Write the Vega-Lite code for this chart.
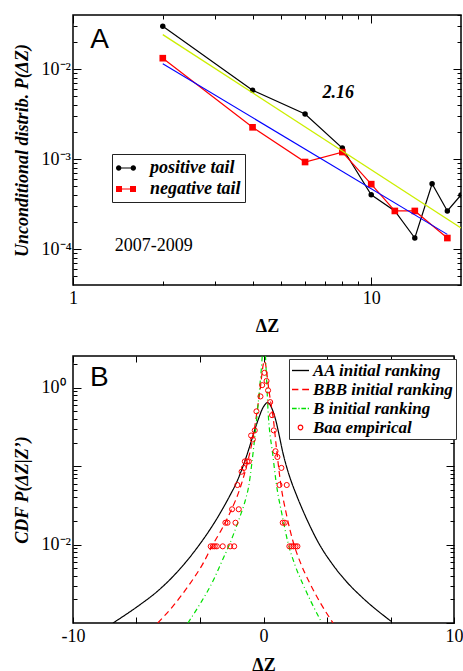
{
 "$schema": "https://vega.github.io/schema/vega-lite/v6.json",
 "padding": {"left": 12, "top": 13, "right": 0, "bottom": 0},
 "spacing": 17,
 "background": "white",
 "resolve": {"scale": {"color": "independent", "strokeDash": "independent", "shape": "independent", "size": "independent"}, "legend": {"color": "independent"}},
 "config": {
  "view": {"stroke": "black", "strokeWidth": 1.5},
  "axis": {"domain": false, "grid": false, "labelFont": "Liberation Serif", "labelFontSize": 18, "labelColor": "black", "tickColor": "black", "tickWidth": 1, "titleFont": "Liberation Serif", "titleFontSize": 18, "titleColor": "black", "labelOverlap": false, "labelFlush": false}
 },
 "datasets": {
  "tails": [
   {"dz": 2, "p": 0.03, "tail": "positive tail"},
   {"dz": 4, "p": 0.00585, "tail": "positive tail"},
   {"dz": 6, "p": 0.00318, "tail": "positive tail"},
   {"dz": 8, "p": 0.00133, "tail": "positive tail"},
   {"dz": 10, "p": 0.000403, "tail": "positive tail"},
   {"dz": 12, "p": 0.000266, "tail": "positive tail"},
   {"dz": 14, "p": 0.000133, "tail": "positive tail"},
   {"dz": 16, "p": 0.000533, "tail": "positive tail"},
   {"dz": 18, "p": 0.000266, "tail": "positive tail"},
   {"dz": 20, "p": 0.0004, "tail": "positive tail"},
   {"dz": 2, "p": 0.01325, "tail": "negative tail"},
   {"dz": 4, "p": 0.00226, "tail": "negative tail"},
   {"dz": 6, "p": 0.00093, "tail": "negative tail"},
   {"dz": 8, "p": 0.0012, "tail": "negative tail"},
   {"dz": 10, "p": 0.000528, "tail": "negative tail"},
   {"dz": 12, "p": 0.000266, "tail": "negative tail"},
   {"dz": 14, "p": 0.000266, "tail": "negative tail"},
   {"dz": 18, "p": 0.000133, "tail": "negative tail"}
  ],
  "fits": [
   {"dz": 2, "p": 0.0242, "fit": "pos"},
   {"dz": 20, "p": 0.000172, "fit": "pos"},
   {"dz": 2, "p": 0.01147, "fit": "neg"},
   {"dz": 18, "p": 0.000146, "fit": "neg"}
  ],
  "curves": [
   {"dz": -7.9, "p": 0.001, "curve": "AA initial ranking"},
   {"dz": -6.5, "p": 0.0017, "curve": "AA initial ranking"},
   {"dz": -5.6, "p": 0.0025, "curve": "AA initial ranking"},
   {"dz": -4.76, "p": 0.0039, "curve": "AA initial ranking"},
   {"dz": -4.0, "p": 0.0063, "curve": "AA initial ranking"},
   {"dz": -3.36, "p": 0.01, "curve": "AA initial ranking"},
   {"dz": -2.49, "p": 0.0206, "curve": "AA initial ranking"},
   {"dz": -1.75, "p": 0.0428, "curve": "AA initial ranking"},
   {"dz": -1.44, "p": 0.06, "curve": "AA initial ranking"},
   {"dz": -0.91, "p": 0.13, "curve": "AA initial ranking"},
   {"dz": -0.68, "p": 0.194, "curve": "AA initial ranking"},
   {"dz": -0.47, "p": 0.285, "curve": "AA initial ranking"},
   {"dz": -0.25, "p": 0.41, "curve": "AA initial ranking"},
   {"dz": -0.04, "p": 0.55, "curve": "AA initial ranking"},
   {"dz": 0.08, "p": 0.61, "curve": "AA initial ranking"},
   {"dz": 0.19, "p": 0.646, "curve": "AA initial ranking"},
   {"dz": 0.31, "p": 0.624, "curve": "AA initial ranking"},
   {"dz": 0.45, "p": 0.537, "curve": "AA initial ranking"},
   {"dz": 0.66, "p": 0.372, "curve": "AA initial ranking"},
   {"dz": 0.8, "p": 0.263, "curve": "AA initial ranking"},
   {"dz": 1.01, "p": 0.151, "curve": "AA initial ranking"},
   {"dz": 1.25, "p": 0.0912, "curve": "AA initial ranking"},
   {"dz": 1.45, "p": 0.0646, "curve": "AA initial ranking"},
   {"dz": 1.7, "p": 0.0447, "curve": "AA initial ranking"},
   {"dz": 2.24, "p": 0.0219, "curve": "AA initial ranking"},
   {"dz": 2.94, "p": 0.01, "curve": "AA initial ranking"},
   {"dz": 3.6, "p": 0.0057, "curve": "AA initial ranking"},
   {"dz": 4.34, "p": 0.0034, "curve": "AA initial ranking"},
   {"dz": 5.2, "p": 0.0021, "curve": "AA initial ranking"},
   {"dz": 6.7, "p": 0.00105, "curve": "AA initial ranking"},
   {"dz": -5.55, "p": 0.001, "curve": "BBB initial ranking"},
   {"dz": -4.7, "p": 0.0017, "curve": "BBB initial ranking"},
   {"dz": -3.89, "p": 0.0031, "curve": "BBB initial ranking"},
   {"dz": -3.2, "p": 0.0056, "curve": "BBB initial ranking"},
   {"dz": -2.66, "p": 0.01, "curve": "BBB initial ranking"},
   {"dz": -2.2, "p": 0.0156, "curve": "BBB initial ranking"},
   {"dz": -1.79, "p": 0.0245, "curve": "BBB initial ranking"},
   {"dz": -1.18, "p": 0.057, "curve": "BBB initial ranking"},
   {"dz": -0.85, "p": 0.109, "curve": "BBB initial ranking"},
   {"dz": -0.56, "p": 0.227, "curve": "BBB initial ranking"},
   {"dz": -0.21, "p": 0.82, "curve": "BBB initial ranking"},
   {"dz": 0.05, "p": 2.2, "curve": "BBB initial ranking"},
   {"dz": 0.3, "p": 0.87, "curve": "BBB initial ranking"},
   {"dz": 0.54, "p": 0.357, "curve": "BBB initial ranking"},
   {"dz": 0.68, "p": 0.17, "curve": "BBB initial ranking"},
   {"dz": 0.92, "p": 0.056, "curve": "BBB initial ranking"},
   {"dz": 1.2, "p": 0.0245, "curve": "BBB initial ranking"},
   {"dz": 1.54, "p": 0.0112, "curve": "BBB initial ranking"},
   {"dz": 2.0, "p": 0.0054, "curve": "BBB initial ranking"},
   {"dz": 2.41, "p": 0.0033, "curve": "BBB initial ranking"},
   {"dz": 3.0, "p": 0.00178, "curve": "BBB initial ranking"},
   {"dz": 3.65, "p": 0.001, "curve": "BBB initial ranking"},
   {"dz": -3.97, "p": 0.001, "curve": "B initial ranking"},
   {"dz": -3.3, "p": 0.0018, "curve": "B initial ranking"},
   {"dz": -2.66, "p": 0.0034, "curve": "B initial ranking"},
   {"dz": -2.2, "p": 0.006, "curve": "B initial ranking"},
   {"dz": -1.79, "p": 0.01, "curve": "B initial ranking"},
   {"dz": -1.26, "p": 0.0219, "curve": "B initial ranking"},
   {"dz": -0.95, "p": 0.037, "curve": "B initial ranking"},
   {"dz": -0.78, "p": 0.055, "curve": "B initial ranking"},
   {"dz": -0.62, "p": 0.105, "curve": "B initial ranking"},
   {"dz": -0.47, "p": 0.219, "curve": "B initial ranking"},
   {"dz": -0.13, "p": 1.55, "curve": "B initial ranking"},
   {"dz": 0.02, "p": 4.0, "curve": "B initial ranking"},
   {"dz": 0.28, "p": 0.357, "curve": "B initial ranking"},
   {"dz": 0.49, "p": 0.138, "curve": "B initial ranking"},
   {"dz": 0.66, "p": 0.063, "curve": "B initial ranking"},
   {"dz": 1.0, "p": 0.0224, "curve": "B initial ranking"},
   {"dz": 1.28, "p": 0.0107, "curve": "B initial ranking"},
   {"dz": 1.65, "p": 0.0055, "curve": "B initial ranking"},
   {"dz": 2.06, "p": 0.00316, "curve": "B initial ranking"},
   {"dz": 2.5, "p": 0.00186, "curve": "B initial ranking"},
   {"dz": 3.02, "p": 0.00105, "curve": "B initial ranking"}
  ],
  "baa": [
   {"dz": 0.05, "p": 1.55}, {"dz": -0.07, "p": 1.08}, {"dz": 0.16, "p": 1.22}, {"dz": 0.24, "p": 0.925},
   {"dz": -0.16, "p": 0.775}, {"dz": 0.35, "p": 0.656}, {"dz": -0.37, "p": 0.5}, {"dz": 0.45, "p": 0.447},
   {"dz": -0.46, "p": 0.286}, {"dz": 0.54, "p": 0.286}, {"dz": -0.65, "p": 0.246}, {"dz": -0.56, "p": 0.219},
   {"dz": 0.63, "p": 0.155}, {"dz": 0.73, "p": 0.131}, {"dz": -0.98, "p": 0.115}, {"dz": -0.86, "p": 0.115},
   {"dz": -0.77, "p": 0.115}, {"dz": -1.03, "p": 0.095}, {"dz": -1.15, "p": 0.085}, {"dz": 0.94, "p": 0.095},
   {"dz": -1.37, "p": 0.0575}, {"dz": 0.84, "p": 0.0575}, {"dz": 1.22, "p": 0.0575}, {"dz": -1.65, "p": 0.0282},
   {"dz": -1.3, "p": 0.0282}, {"dz": -2.0, "p": 0.019}, {"dz": -1.89, "p": 0.019}, {"dz": -1.47, "p": 0.019},
   {"dz": 1.01, "p": 0.019}, {"dz": 1.12, "p": 0.019}, {"dz": -2.77, "p": 0.0095}, {"dz": -2.66, "p": 0.0095},
   {"dz": -2.56, "p": 0.0095}, {"dz": -2.45, "p": 0.0095}, {"dz": -2.14, "p": 0.0095}, {"dz": -1.75, "p": 0.0095},
   {"dz": -1.54, "p": 0.0095}, {"dz": 1.36, "p": 0.0095}, {"dz": 1.47, "p": 0.0095}, {"dz": 1.57, "p": 0.0095},
   {"dz": 1.68, "p": 0.0095}, {"dz": 1.78, "p": 0.0095}
  ]
 },
 "vconcat": [
  {
   "width": 388,
   "height": 270,
   "resolve": {"axis": {"x": "independent", "y": "independent"}},
   "layer": [
    {
     "data": {"name": "tails"},
     "mark": {"type": "point", "filled": true, "opacity": 0, "size": 400, "clip": true},
     "encoding": {
      "x": {"field": "dz", "type": "quantitative", "scale": {"type": "log", "domain": [1, 20], "nice": false}, "axis": null},
      "y": {"field": "p", "type": "quantitative", "scale": {"type": "log", "domain": [0.00004, 0.04], "nice": false}, "axis": null},
      "color": {"field": "tail", "type": "nominal", "scale": {"domain": ["positive tail", "negative tail"], "range": ["black", "#ff0000"]},
       "legend": {"orient": "none", "legendX": 39, "legendY": 139, "title": null, "strokeColor": "#222", "fillColor": "white", "padding": 4, "labelFont": "Liberation Serif", "labelFontSize": 18, "labelFontWeight": "bold", "labelFontStyle": "italic", "labelColor": "black", "labelOffset": 14, "rowPadding": 2, "symbolSize": 400, "symbolStrokeWidth": 0, "symbolOpacity": 1, "labelLimit": 300}},
      "shape": {"field": "tail", "type": "nominal", "scale": {"domain": ["positive tail", "negative tail"], "range": ["M-1,-0.06H1V0.06H-1ZM-1,0a0.27,0.27 0 1,1 0.54,0a0.27,0.27 0 1,1 -0.54,0ZM0.46,0a0.27,0.27 0 1,1 0.54,0a0.27,0.27 0 1,1 -0.54,0Z", "M-1,-0.06H1V0.06H-1ZM-1,-0.3H-0.4V0.3H-1ZM0.4,-0.3H1V0.3H0.4Z"]}, "legend": null}
     }
    },
    {
     "data": {"name": "tails"},
     "mark": {"type": "line", "strokeWidth": 1.2, "clip": true},
     "encoding": {
      "x": {"field": "dz", "type": "quantitative", "scale": {"type": "log", "domain": [1, 20], "nice": false},
       "axis": {"orient": "bottom", "values": [1, 2, 3, 4, 5, 6, 7, 8, 9, 10], "labelExpr": "datum.value == 1 ? '1' : datum.value == 10 ? '10' : ''", "tickSize": {"condition": {"test": "datum.value == 1 || datum.value == 10", "value": -8}, "value": -4}, "labelPadding": 12, "title": "ΔZ", "titleFontWeight": "bold", "titlePadding": 6.5}},
      "y": {"field": "p", "type": "quantitative", "scale": {"type": "log", "domain": [0.00004, 0.04], "nice": false},
       "axis": {"orient": "left", "values": [0.00005, 0.00006, 0.00007, 0.00008, 0.00009, 0.0001, 0.0002, 0.0003, 0.0004, 0.0005, 0.0006, 0.0007, 0.0008, 0.0009, 0.001, 0.002, 0.003, 0.004, 0.005, 0.006, 0.007, 0.008, 0.009, 0.01, 0.02, 0.03], "labelExpr": "datum.value == 0.01 ? '10⁻²' : datum.value == 0.001 ? '10⁻³' : datum.value == 0.0001 ? '10⁻⁴' : ''", "tickSize": {"condition": {"test": "datum.value == 0.01 || datum.value == 0.001 || datum.value == 0.0001", "value": -8}, "value": -4}, "labelAlign": "left", "labelBaseline": "middle", "labelPadding": 40, "title": "Unconditional distrib. P(ΔZ)", "titleFontWeight": "bold", "titleFontStyle": "italic", "titlePadding": 5.5}},
      "color": {"field": "tail", "type": "nominal", "scale": {"domain": ["positive tail", "negative tail"], "range": ["black", "#ff0000"]}, "legend": null}
     }
    },
    {
     "data": {"name": "tails"},
     "transform": [{"filter": "datum.tail == 'positive tail'"}],
     "mark": {"type": "point", "shape": "circle", "filled": true, "color": "black", "size": 30, "opacity": 1, "clip": true},
     "encoding": {
      "x": {"field": "dz", "type": "quantitative", "scale": {"type": "log", "domain": [1, 20], "nice": false},
       "axis": {"orient": "top", "values": [1, 2, 3, 4, 5, 6, 7, 8, 9, 10], "labels": false, "tickSize": {"condition": {"test": "datum.value == 1 || datum.value == 10", "value": -8}, "value": -4}, "title": null}},
      "y": {"field": "p", "type": "quantitative", "scale": {"type": "log", "domain": [0.00004, 0.04], "nice": false},
       "axis": {"orient": "right", "values": [0.00004, 0.00005, 0.00006, 0.00007, 0.00008, 0.00009, 0.0001, 0.0002, 0.0003, 0.0004, 0.0005, 0.0006, 0.0007, 0.0008, 0.0009, 0.001, 0.002, 0.003, 0.004, 0.005, 0.006, 0.007, 0.008, 0.009, 0.01, 0.02, 0.03, 0.04], "labels": false, "tickSize": {"condition": {"test": "datum.value == 0.01 || datum.value == 0.001 || datum.value == 0.0001", "value": -8}, "value": -4}, "title": null}}
     }
    },
    {
     "data": {"name": "tails"},
     "transform": [{"filter": "datum.tail == 'negative tail'"}],
     "mark": {"type": "point", "shape": "square", "filled": true, "color": "#ff0000", "size": 44, "opacity": 1, "clip": true},
     "encoding": {
      "x": {"field": "dz", "type": "quantitative", "scale": {"type": "log", "domain": [1, 20], "nice": false}, "axis": null},
      "y": {"field": "p", "type": "quantitative", "scale": {"type": "log", "domain": [0.00004, 0.04], "nice": false}, "axis": null}
     }
    },
    {
     "data": {"name": "fits"},
     "transform": [{"filter": "datum.fit == 'pos'"}],
     "mark": {"type": "line", "color": "#ccee00", "strokeWidth": 1.3, "clip": true},
     "encoding": {
      "x": {"field": "dz", "type": "quantitative", "scale": {"type": "log", "domain": [1, 20], "nice": false}, "axis": null},
      "y": {"field": "p", "type": "quantitative", "scale": {"type": "log", "domain": [0.00004, 0.04], "nice": false}, "axis": null}
     }
    },
    {
     "data": {"name": "fits"},
     "transform": [{"filter": "datum.fit == 'neg'"}],
     "mark": {"type": "line", "color": "#0000ff", "strokeWidth": 1.1, "clip": true},
     "encoding": {
      "x": {"field": "dz", "type": "quantitative", "scale": {"type": "log", "domain": [1, 20], "nice": false}, "axis": null},
      "y": {"field": "p", "type": "quantitative", "scale": {"type": "log", "domain": [0.00004, 0.04], "nice": false}, "axis": null}
     }
    },
    {
     "data": {"values": [{"dz": 1.227, "p": 0.0213, "t": "A"}]},
     "mark": {"type": "text", "font": "Liberation Sans", "fontSize": 28, "align": "center", "baseline": "middle", "color": "black"},
     "encoding": {
      "x": {"field": "dz", "type": "quantitative", "scale": {"type": "log", "domain": [1, 20], "nice": false}, "axis": null},
      "y": {"field": "p", "type": "quantitative", "scale": {"type": "log", "domain": [0.00004, 0.04], "nice": false}, "axis": null},
      "text": {"field": "t"}
     }
    },
    {
     "data": {"values": [{"dz": 7.75, "p": 0.0054, "t": "2.16"}]},
     "mark": {"type": "text", "font": "Liberation Serif", "fontSize": 18, "fontWeight": "bold", "fontStyle": "italic", "align": "center", "baseline": "middle", "color": "black"},
     "encoding": {
      "x": {"field": "dz", "type": "quantitative", "scale": {"type": "log", "domain": [1, 20], "nice": false}, "axis": null},
      "y": {"field": "p", "type": "quantitative", "scale": {"type": "log", "domain": [0.00004, 0.04], "nice": false}, "axis": null},
      "text": {"field": "t"}
     }
    },
    {
     "data": {"values": [{"dz": 1.38, "p": 0.000109, "t": "2007-2009"}]},
     "mark": {"type": "text", "font": "Liberation Serif", "fontSize": 18, "align": "left", "baseline": "middle", "color": "black"},
     "encoding": {
      "x": {"field": "dz", "type": "quantitative", "scale": {"type": "log", "domain": [1, 20], "nice": false}, "axis": null},
      "y": {"field": "p", "type": "quantitative", "scale": {"type": "log", "domain": [0.00004, 0.04], "nice": false}, "axis": null},
      "text": {"field": "t"}
     }
    }
   ]
  },
  {
   "width": 381,
   "height": 267,
   "resolve": {"axis": {"x": "independent", "y": "independent"}},
   "layer": [
    {
     "data": {"name": "curves"},
     "mark": {"type": "point", "filled": true, "opacity": 0, "size": 289, "clip": true},
     "encoding": {
      "x": {"field": "dz", "type": "quantitative", "scale": {"domain": [-10, 10], "nice": false}, "axis": null},
      "y": {"field": "p", "type": "quantitative", "scale": {"type": "log", "domain": [0.001, 2.54], "nice": false}, "axis": null},
      "color": {"field": "curve", "type": "nominal", "scale": {"domain": ["AA initial ranking", "BBB initial ranking", "B initial ranking", "Baa empirical"], "range": ["black", "#ff0000", "#00e000", "#ff0000"]},
       "legend": {"orient": "none", "legendX": 216, "legendY": 3, "title": null, "strokeColor": "#333", "fillColor": "white", "padding": 3, "labelFont": "Liberation Serif", "labelFontSize": 17, "labelFontWeight": "bold", "labelFontStyle": "italic", "labelColor": "black", "labelOffset": 4, "rowPadding": 1, "symbolSize": 289, "symbolStrokeWidth": 0, "symbolOpacity": 1, "labelLimit": 300}},
      "shape": {"field": "curve", "type": "nominal", "scale": {"domain": ["AA initial ranking", "BBB initial ranking", "B initial ranking", "Baa empirical"], "range": ["M-1,-0.08H1V0.08H-1Z", "M-1,-0.08H-0.25V0.08H-1ZM0.2,-0.08H1V0.08H0.2Z", "M-1,-0.08H-0.45V0.08H-1ZM-0.25,-0.08H-0.1V0.08H-0.25ZM0.1,-0.08H0.65V0.08H0.1ZM0.85,-0.08H1V0.08H0.85Z", "M-0.34,0a0.34,0.34 0 1,1 0.68,0a0.34,0.34 0 1,1 -0.68,0ZM-0.2,0a0.2,0.2 0 1,0 0.4,0a0.2,0.2 0 1,0 -0.4,0Z"]}, "legend": null}
     }
    },
    {
     "data": {"name": "curves"},
     "mark": {"type": "line", "strokeWidth": 1.2, "clip": true, "interpolate": "monotone"},
     "encoding": {
      "x": {"field": "dz", "type": "quantitative", "scale": {"domain": [-10, 10], "nice": false},
       "axis": {"orient": "bottom", "values": [-10, -6.667, -3.333, 0, 3.333, 6.667, 10], "labelExpr": "datum.value == -10 ? '-10' : datum.value == 0 ? '0' : datum.value == 10 ? '10' : ''", "tickSize": -6, "labelPadding": 10, "title": "ΔZ", "titleFontWeight": "bold", "titlePadding": 11}},
      "y": {"field": "p", "type": "quantitative", "scale": {"type": "log", "domain": [0.001, 2.54], "nice": false},
       "axis": {"orient": "left", "values": [0.002, 0.003, 0.004, 0.005, 0.006, 0.007, 0.008, 0.009, 0.01, 0.02, 0.03, 0.04, 0.05, 0.06, 0.07, 0.08, 0.09, 0.1, 0.2, 0.3, 0.4, 0.5, 0.6, 0.7, 0.8, 0.9, 1, 2], "labelExpr": "datum.value == 1 ? '10⁰' : datum.value == 0.01 ? '10⁻²' : ''", "tickSize": {"condition": {"test": "datum.value == 1 || datum.value == 0.1 || datum.value == 0.01 || datum.value == 0.001", "value": -8}, "value": -4}, "labelAlign": "left", "labelBaseline": "middle", "labelPadding": 40, "title": "CDF P(ΔZ|Z’)", "titleFontWeight": "bold", "titleFontStyle": "italic", "titlePadding": 5.5}},
      "color": {"field": "curve", "type": "nominal", "scale": {"domain": ["AA initial ranking", "BBB initial ranking", "B initial ranking", "Baa empirical"], "range": ["black", "#ff0000", "#00e000", "#ff0000"]}, "legend": null},
      "strokeDash": {"field": "curve", "type": "nominal", "scale": {"domain": ["AA initial ranking", "BBB initial ranking", "B initial ranking"], "range": [[1, 0], [6, 4], [5, 3, 1, 3]]}, "legend": null}
     }
    },
    {
     "data": {"name": "baa"},
     "mark": {"type": "point", "filled": false, "color": "#ff0000", "strokeWidth": 1, "size": 26, "opacity": 1, "clip": true},
     "encoding": {
      "x": {"field": "dz", "type": "quantitative", "scale": {"domain": [-10, 10], "nice": false},
       "axis": {"orient": "top", "values": [-10, -6.667, -3.333, 0, 3.333, 6.667, 10], "labels": false, "tickSize": -6, "title": null}},
      "y": {"field": "p", "type": "quantitative", "scale": {"type": "log", "domain": [0.001, 2.54], "nice": false},
       "axis": {"orient": "right", "values": [0.001, 0.002, 0.003, 0.004, 0.005, 0.006, 0.007, 0.008, 0.009, 0.01, 0.02, 0.03, 0.04, 0.05, 0.06, 0.07, 0.08, 0.09, 0.1, 0.2, 0.3, 0.4, 0.5, 0.6, 0.7, 0.8, 0.9, 1, 2], "labels": false, "tickSize": {"condition": {"test": "datum.value == 1 || datum.value == 0.1 || datum.value == 0.01 || datum.value == 0.001", "value": -8}, "value": -4}, "title": null}}
     }
    },
    {
     "data": {"values": [{"dz": -8.62, "p": 1.34, "t": "B"}]},
     "mark": {"type": "text", "font": "Liberation Sans", "fontSize": 28, "align": "center", "baseline": "middle", "color": "black"},
     "encoding": {
      "x": {"field": "dz", "type": "quantitative", "scale": {"domain": [-10, 10], "nice": false}, "axis": null},
      "y": {"field": "p", "type": "quantitative", "scale": {"type": "log", "domain": [0.001, 2.54], "nice": false}, "axis": null},
      "text": {"field": "t"}
     }
    }
   ]
  }
 ]
}
